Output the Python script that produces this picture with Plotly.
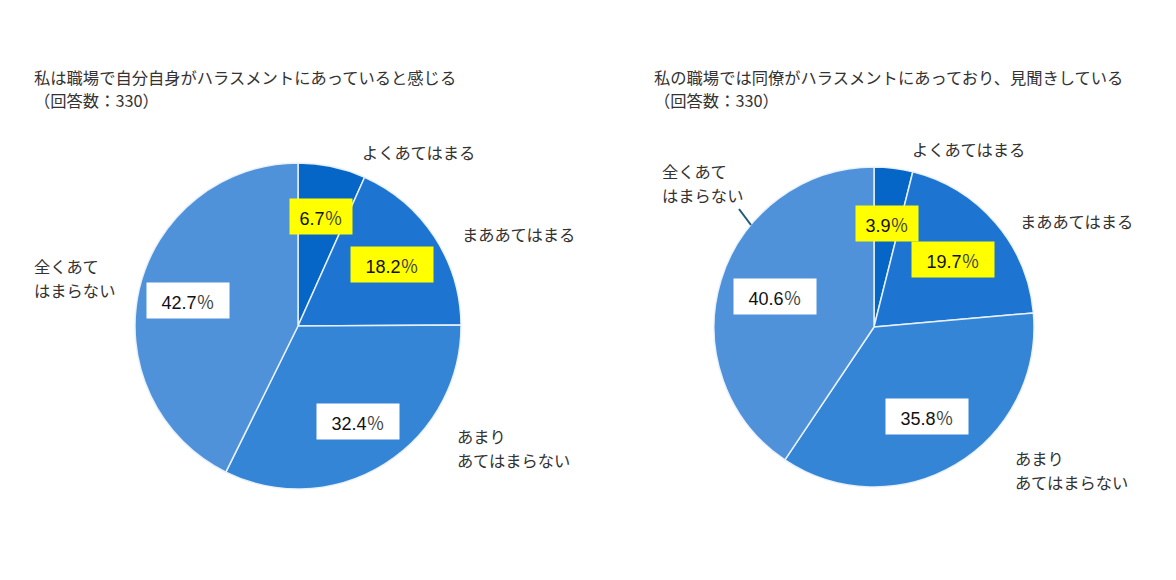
import math
import plotly.graph_objects as go

W, H = 1176, 580
PAD = 8                      # page margin of the browser body
FW, FH = W - 2 * PAD, H - 2 * PAD

# ---- data ----
categories = ["よくあてはまる", "まああてはまる", "あまりあてはまらない", "全くあてはまらない"]
category_lines = [["よくあてはまる"], ["まああてはまる"], ["あまり", "あてはまらない"], ["全くあて", "はまらない"]]
self_values = [6.7, 18.2, 32.4, 42.7]
coworker_values = [3.9, 19.7, 35.8, 40.6]
chart_titles = ["私は職場で自分自身がハラスメントにあっていると感じる",
                "私の職場では同僚がハラスメントにあっており、見聞きしている"]
n_responses = [330, 330]

# ---- styles ----
slice_colors = ["#0666c8", "#1d75d1", "#3585d6", "#4f92da"]
box_colors = ["#ffff00", "#ffff00", "#ffffff", "#ffffff"]
FONT = "Noto Sans CJK JP"
NUM_FONT = "Liberation Sans, Arial, Noto Sans CJK JP"
TXT = "#333333"


def px2x(x):
    return (x - PAD) / FW


def px2y(y):
    return 1 - (y - PAD) / FH


# layout of the two pies (pixel centre / radius, label radius factor)
pies = [
    dict(values=self_values, cx=298, cy=326, r=163, rf=0.69, title_x=32,
         label_pos=[(360, 152), (460, 234), (455, 436), (32, 266)]),
    dict(values=coworker_values, cx=874, cy=327, r=160, rf=0.65, title_x=652,
         label_pos=[(910, 149), (1018, 221), (1013, 458), (660, 171)]),
]

fig = go.Figure()
annotations = []
shapes = []

for i, p in enumerate(pies):
    cx, cy, r = p["cx"], p["cy"], p["r"]
    fig.add_trace(go.Pie(
        labels=categories,
        values=p["values"],
        sort=False,
        direction="clockwise",
        rotation=0,
        textinfo="none",
        hoverinfo="label+percent",
        marker=dict(colors=slice_colors, line=dict(color="rgba(235,243,252,0.95)", width=1.5)),
        domain=dict(x=[px2x(cx - r), px2x(cx + r)], y=[px2y(cy + r), px2y(cy - r)]),
        showlegend=False,
    ))

    # percentage boxes placed at each slice's mid-angle
    total = sum(p["values"])
    cum = 0.0
    for j, v in enumerate(p["values"]):
        theta = 2 * math.pi * (cum + v / 2) / total
        cum += v
        bx = cx + p["rf"] * r * math.sin(theta)
        by = cy - p["rf"] * r * math.cos(theta)
        annotations.append(dict(
            x=px2x(bx), y=px2y(by), xref="paper", yref="paper",
            text=f"{v:.1f}<span style='font-family:Noto Sans CJK JP;color:#444444'>％</span>",
            showarrow=False,
            font=dict(family=NUM_FONT, size=18, color="#111111"),
            bgcolor=box_colors[j], width=62 if v < 10 else 82, height=35,
            borderpad=0, xanchor="center", yanchor="middle",
        ))

    # category labels
    for j, lines in enumerate(category_lines):
        lx, ly = p["label_pos"][j]
        for k, line in enumerate(lines):
            annotations.append(dict(
                x=px2x(lx), y=px2y(ly + 24 * k), xref="paper", yref="paper",
                text=line, showarrow=False, xanchor="left", yanchor="middle",
                font=dict(family=FONT, size=16.3, color=TXT),
            ))

    # titles
    annotations.append(dict(
        x=px2x(p["title_x"]), y=px2y(77), xref="paper", yref="paper",
        text=chart_titles[i], showarrow=False, xanchor="left", yanchor="middle",
        font=dict(family=FONT, size=16.3, color=TXT),
    ))
    annotations.append(dict(
        x=px2x(p["title_x"]), y=px2y(100), xref="paper", yref="paper",
        text=f"（回答数：{n_responses[i]}）", showarrow=False, xanchor="left", yanchor="middle",
        font=dict(family=FONT, size=16.3, color=TXT),
    ))

# leader line for 全くあてはまらない on the right chart
shapes.append(dict(type="line", xref="paper", yref="paper",
                   x0=px2x(739), y0=px2y(209), x1=px2x(751), y1=px2y(225),
                   line=dict(color="#1f5a7a", width=2)))

fig.update_layout(
    width=FW, height=FH,
    margin=dict(l=0, r=0, t=0, b=0),
    paper_bgcolor="white", plot_bgcolor="white",
    annotations=annotations, shapes=shapes,
    font=dict(family=FONT),
)

fig.write_html("out.html")
